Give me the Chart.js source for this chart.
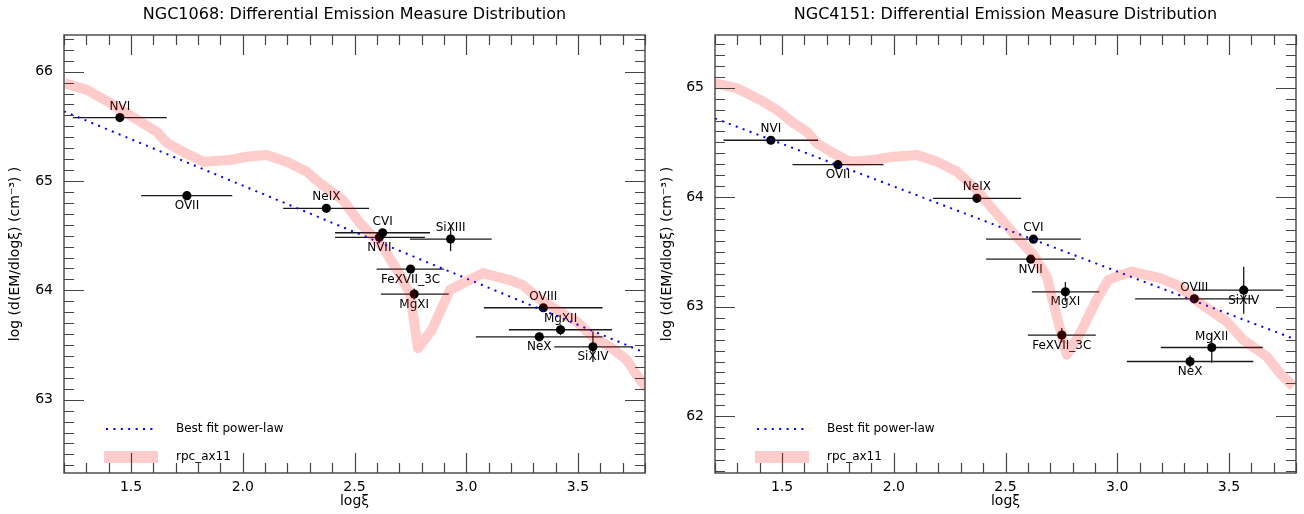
<!DOCTYPE html>
<html><head><meta charset="utf-8">
<script src="https://cdn.jsdelivr.net/npm/chart.js@4.4.1/dist/chart.umd.min.js"></script>
<style>
html,body{margin:0;padding:0;background:#fff;}
#wrap{position:relative;width:1304px;height:514px;overflow:hidden;}
.box{position:absolute;top:0;width:652px;height:514px;}
</style></head><body>
<div id="wrap">
<div class="box" style="left:0"><canvas id="c1" width="652" height="514"></canvas></div>
<div class="box" style="left:652px"><canvas id="c2" width="652" height="514"></canvas></div>
</div>
<script>
// ---------- NGC1068 ----------
const titles = ['NGC1068: Differential Emission Measure Distribution','NGC4151: Differential Emission Measure Distribution'];
const names1 = ['NVI','OVII','NeIX','CVI','NVII','SiXIII','FeXVII_3C','MgXI','OVIII','MgXII','NeX','SiXIV'];
const x1 =   [1.45, 1.75, 2.374, 2.626, 2.611, 2.93, 2.751, 2.767, 3.345, 3.422, 3.327, 3.567];
const y1 =   [65.58, 64.866, 64.75, 64.527, 64.485, 64.469, 64.195, 63.966, 63.841, 63.64, 63.575, 63.484];
const xlo1 = [1.239, 1.545, 2.181, 2.413, 2.413, 2.748, 2.599, 2.618, 3.079, 3.191, 3.043, 3.394];
const xhi1 = [1.66, 1.953, 2.565, 2.838, 2.815, 3.114, 2.9, 2.922, 3.61, 3.652, 3.61, 3.74];
const yerr1 = [0, 0, 0, 0, 0, 0.11, 0, 0.05, 0, 0.05, 0, 0.14];
const pos1 = ['a','b','a','a','b','a','b','b','a','a','b','b'];
const fitX = [1.2, 3.8];
const fitY1 = [65.637, 63.43];
const rpcX1 = [1.204,1.302,1.406,1.54,1.615,1.66,1.732,1.822,1.943,2.017,2.107,2.196,2.286,2.345,2.448,2.524,2.627,2.69,2.748,2.784,2.846,2.927,3.075,3.196,3.254,3.316,3.406,3.495,3.567,3.643,3.719,3.763,3.808];
const rpcY1 = [65.894,65.833,65.714,65.543,65.451,65.348,65.268,65.177,65.192,65.222,65.238,65.177,65.085,64.982,64.826,64.616,64.396,64.186,63.975,63.47,63.637,64.003,64.158,64.094,64.048,63.938,63.82,63.713,63.575,63.484,63.362,63.225,63.106];
const yRange1 = [62.33, 66.335];
const yTicks1 = [63, 64, 65, 66];

// ---------- NGC4151 ----------
const names2 = ['NVI','OVII','NeIX','CVI','NVII','MgXI','FeXVII_3C','OVIII','SiXIV','MgXII','NeX'];
const x2 =   [1.45, 1.75, 2.372, 2.625, 2.613, 2.768, 2.752, 3.345, 3.566, 3.423, 3.326];
const y2 =   [64.52, 64.297, 63.99, 63.617, 63.434, 63.136, 62.741, 63.072, 63.151, 62.628, 62.5];
const xlo2 = [1.238, 1.547, 2.176, 2.413, 2.413, 2.618, 2.6, 3.08, 3.34, 3.195, 3.043];
const xhi2 = [1.661, 1.954, 2.57, 2.837, 2.811, 2.92, 2.904, 3.609, 3.743, 3.651, 3.609];
const yerr2 = [0, 0, 0, 0, 0, 0.09, 0.065, 0, 0.215, 0.137, 0.055];
const pos2 = ['a','b','a','a','b','b','b','a','b','a','b'];
const fitY2 = [64.72, 62.70];
const rpcX2 = [1.201,1.298,1.403,1.477,1.552,1.611,1.656,1.73,1.805,1.909,1.999,2.103,2.193,2.282,2.372,2.446,2.535,2.625,2.685,2.73,2.774,2.834,2.908,2.96,2.998,3.065,3.192,3.266,3.37,3.49,3.564,3.669,3.728,3.788];
const rpcY2 = [65.04,64.995,64.888,64.797,64.675,64.599,64.493,64.401,64.325,64.34,64.37,64.386,64.325,64.234,64.065,63.884,63.671,63.474,63.276,62.91,62.561,62.759,63.063,63.245,63.276,63.321,63.261,63.2,63.033,62.865,62.698,62.546,62.394,62.272];
const yRange2 = [61.482, 65.481];
const yTicks2 = [62, 63, 64, 65];

const xRange = [1.2, 3.8];
const xTicks = [1.5, 2.0, 2.5, 3.0, 3.5];
const legendLabels = ['Best fit power-law', 'rpc_ax11'];

Chart.defaults.font.family = '"DejaVu Sans", sans-serif';

function pts(xs, ys){ return xs.map((v,i)=>({x:v, y:ys[i]})); }

function makeChart(id, d){
  const FRAME = '#444';
  const plugin = {
    id: 'deco'+id,
    beforeDatasetsDraw(chart){
      const {ctx, chartArea:a, scales:{x, y}} = chart;
      ctx.save();
      ctx.beginPath(); ctx.rect(a.left, a.top, a.right-a.left, a.bottom-a.top); ctx.clip();
      ctx.strokeStyle = 'rgba(0,0,0,0.9)'; ctx.lineWidth = 1.3;
      for (let i=0;i<d.xs.length;i++){
        const py = y.getPixelForValue(d.ys[i]);
        ctx.beginPath();
        ctx.moveTo(x.getPixelForValue(d.xlo[i]), py);
        ctx.lineTo(x.getPixelForValue(d.xhi[i]), py);
        ctx.stroke();
        if (d.yerr[i] > 0){
          const px = x.getPixelForValue(d.xs[i]);
          ctx.beginPath();
          ctx.moveTo(px, y.getPixelForValue(d.ys[i]-d.yerr[i]));
          ctx.lineTo(px, y.getPixelForValue(d.ys[i]+d.yerr[i]));
          ctx.stroke();
        }
      }
      ctx.fillStyle = '#000';
      ctx.font = '12px "DejaVu Sans"';
      ctx.textAlign = 'center'; ctx.textBaseline = 'middle';
      for (let i=0;i<d.xs.length;i++){
        const px = x.getPixelForValue(d.xs[i]);
        const py = y.getPixelForValue(d.ys[i]);
        ctx.fillText(d.names[i], px, py + (d.pos[i]==='a' ? -11 : 10.5));
      }
      ctx.restore();
    },
    afterDraw(chart){
      const {ctx, chartArea:a, scales:{x, y}} = chart;
      ctx.save();
      ctx.strokeStyle = FRAME; ctx.lineWidth = 1.4;
      ctx.strokeRect(a.left, a.top, a.right-a.left, a.bottom-a.top);
      ctx.lineWidth = 1.2;
      for (let k = Math.ceil(xRange[0]*10-1e-6); k <= Math.floor(xRange[1]*10+1e-6); k++){
        const px = Math.round(x.getPixelForValue(k/10)) + 0.5;
        const L = (k % 5 === 0) ? 20 : 10;
        ctx.beginPath();
        ctx.moveTo(px, a.bottom); ctx.lineTo(px, a.bottom - L);
        ctx.moveTo(px, a.top); ctx.lineTo(px, a.top + L);
        ctx.stroke();
      }
      for (let k = Math.ceil(d.yr[0]*10-1e-6); k <= Math.floor(d.yr[1]*10+1e-6); k++){
        const py = Math.round(y.getPixelForValue(k/10)) + 0.5;
        const L = (k % 10 === 0) ? 20 : 10;
        ctx.beginPath();
        ctx.moveTo(a.left, py); ctx.lineTo(a.left + L, py);
        ctx.moveTo(a.right, py); ctx.lineTo(a.right - L, py);
        ctx.stroke();
      }
      ctx.fillStyle = '#000';
      ctx.font = '16px "DejaVu Sans"';
      ctx.textAlign = 'center'; ctx.textBaseline = 'alphabetic';
      ctx.fillText(d.title, (a.left + a.right)/2, 19);
      const lx = a.left + 42, tx = a.left + 112;
      ctx.save();
      ctx.strokeStyle = 'blue'; ctx.lineWidth = 2; ctx.setLineDash([2, 5.4]);
      ctx.beginPath(); ctx.moveTo(lx, 429); ctx.lineTo(lx + 48, 429); ctx.stroke();
      ctx.restore();
      ctx.strokeStyle = 'rgba(255,0,0,0.2)'; ctx.lineWidth = 12; ctx.setLineDash([]);
      ctx.beginPath(); ctx.moveTo(lx - 2, 457); ctx.lineTo(lx + 52, 457); ctx.stroke();
      ctx.font = '12px "DejaVu Sans"'; ctx.textAlign = 'left'; ctx.textBaseline = 'middle';
      ctx.fillText(legendLabels[0], tx, 429);
      ctx.fillText(legendLabels[1], tx, 457);
      ctx.restore();
    }
  };

  return new Chart(document.getElementById(id), {
    type: 'scatter',
    data: {
      datasets: [
        { label: legendLabels[1], data: pts(d.rpcX, d.rpcY), showLine: true, borderColor: 'rgba(255,0,0,0.2)', borderWidth: 10, pointRadius: 0, borderJoinStyle: 'round', tension: 0, order: 0 },
        { label: legendLabels[0], data: pts(fitX, d.fitY), showLine: true, borderColor: 'blue', borderWidth: 2, borderDash: [2, 5.4], pointRadius: 0, order: 1 },
        { label: 'lines', data: pts(d.xs, d.ys), showLine: false, pointRadius: 4.6, pointBackgroundColor: '#000', pointBorderWidth: 0, order: 2 }
      ]
    },
    options: {
      responsive: false, animation: false, devicePixelRatio: 1,
      layout: { padding: { left: 0, top: 35, right: d.padRight, bottom: 0 } },
      plugins: { legend: { display: false }, tooltip: { enabled: false } },
      scales: {
        x: {
          type: 'linear', min: xRange[0], max: xRange[1],
          grid: { display: false, drawTicks: false }, border: { display: false },
          afterBuildTicks: s => { s.ticks = xTicks.map(v => ({ value: v })); },
          ticks: { color: '#000', font: { size: 14 }, padding: 6, maxRotation: 0, autoSkip: false,
                   callback: v => Number(v).toFixed(1) },
          title: { display: true, text: 'logξ', color: '#000', font: { size: 14 }, padding: { top: 0, bottom: 4 } },
          afterFit: s => { s.height = 41; }
        },
        y: {
          type: 'linear', min: d.yr[0], max: d.yr[1],
          grid: { display: false, drawTicks: false }, border: { display: false },
          afterBuildTicks: s => { s.ticks = d.yTicks.map(v => ({ value: v })); },
          ticks: { color: '#000', font: { size: 14 }, padding: 11, autoSkip: false,
                   callback: v => String(Math.round(v)) },
          title: { display: true, text: 'log (d(EM/dlogξ) (cm⁻³) )', color: '#000', font: { size: 14 }, padding: { top: 7, bottom: 0 } },
          afterFit: s => { s.width = d.yWidth; }
        }
      }
    },
    plugins: [plugin]
  });
}

makeChart('c1', { names: names1, xs: x1, ys: y1, xlo: xlo1, xhi: xhi1, yerr: yerr1, pos: pos1,
  fitY: fitY1, rpcX: rpcX1, rpcY: rpcY1, yr: yRange1, yTicks: yTicks1, title: titles[0], yWidth: 64, padRight: 7 });
makeChart('c2', { names: names2, xs: x2, ys: y2, xlo: xlo2, xhi: xhi2, yerr: yerr2, pos: pos2,
  fitY: fitY2, rpcX: rpcX2, rpcY: rpcY2, yr: yRange2, yTicks: yTicks2, title: titles[1], yWidth: 63, padRight: 8 });
</script>
</body></html>
